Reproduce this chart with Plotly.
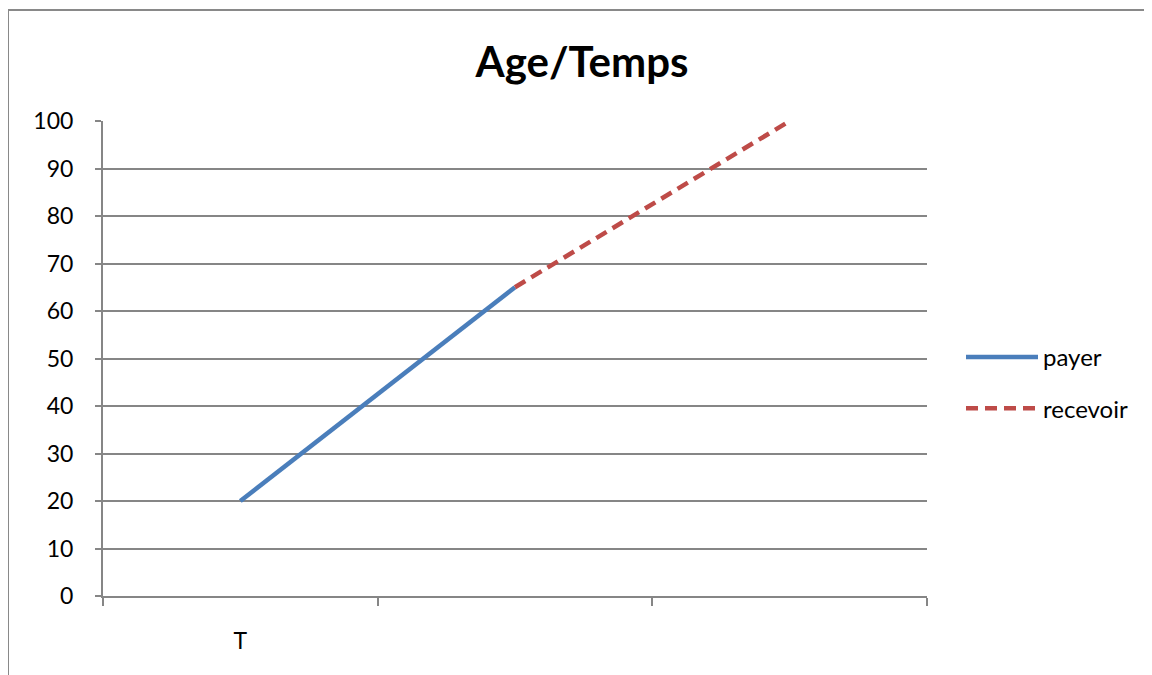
from plotly import graph_objects as go

categories = ["T", "t2", "t3"]
category_labels = ["T", "", ""]
payer = [20, 65, None]
recevoir = [None, 65, 100]

GRAY = "#868686"
FONT = "Lato"

# page shows the figure shifted by the body margin (8px), so lay out in shifted coords
LEFT, RIGHT, TOP, BOTTOM = 95, 919, 113, 588
W, H = 1144, 667
PW, PH = RIGHT - LEFT, BOTTOM - TOP

figure = go.Figure()
figure.add_trace(
    go.Scatter(
        name="payer",
        x=categories,
        y=payer,
        mode="lines",
        line=dict(color="#4a7ebb", width=4.5),
        legendgroup="payer",
    )
)
figure.add_trace(
    go.Scatter(
        name="recevoir",
        x=categories,
        y=recevoir,
        mode="lines",
        line=dict(color="#be4b48", width=4.5, dash="12px,7px"),
        legendgroup="recevoir",
    )
)

figure.update_layout(
    width=W,
    height=H,
    margin=dict(l=LEFT, r=W - RIGHT, t=TOP, b=H - BOTTOM),
    paper_bgcolor="white",
    plot_bgcolor="white",
    font=dict(family=FONT, size=23, color="black"),
    title=dict(
        text="<b>Age/Temps</b>",
        x=(574 - LEFT) / PW,
        xref="paper",
        xanchor="center",
        y=1 - 54 / H,
        yanchor="middle",
        font=dict(size=42, family=FONT),
    ),
    legend=dict(
        x=(953 - LEFT) / PW,
        y=1 - (375 - TOP) / PH,
        xanchor="left",
        yanchor="middle",
        traceorder="grouped",
        tracegroupgap=17,
        itemwidth=72,
        font=dict(size=24),
    ),
    showlegend=True,
)

figure.update_xaxes(
    type="category",
    categoryorder="array",
    categoryarray=categories,
    tickvals=categories,
    ticktext=category_labels,
    tickson="boundaries",
    range=[-0.5, 2.5],
    ticks="outside",
    ticklen=8,
    tickwidth=2,
    tickcolor=GRAY,
    showline=True,
    linecolor=GRAY,
    linewidth=2,
    showgrid=False,
    ticklabelstandoff=23,
)
figure.update_yaxes(
    range=[0, 100],
    dtick=10,
    ticks="outside",
    ticklen=6,
    tickwidth=2,
    tickcolor=GRAY,
    showline=True,
    linecolor=GRAY,
    linewidth=2,
    showgrid=True,
    gridcolor=GRAY,
    gridwidth=1.5,
    zeroline=False,
    ticklabelstandoff=17,
)

# chart area border (left and top edges visible)
bx = (0 - LEFT) / PW
by = 1 + (TOP - 2) / PH
figure.add_shape(
    type="line", xref="paper", yref="paper",
    x0=bx, x1=bx, y0=-0.3, y1=by,
    line=dict(color="#898989", width=2),
)
figure.add_shape(
    type="line", xref="paper", yref="paper",
    x0=bx, x1=1.4, y0=by, y1=by,
    line=dict(color="#898989", width=2),
)

figure.write_html("out.html")
